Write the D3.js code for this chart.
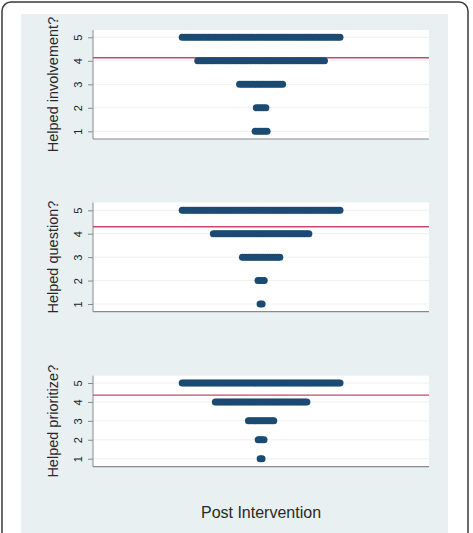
<!DOCTYPE html>
<html>
<head>
<meta charset="utf-8">
<script src="https://cdn.jsdelivr.net/npm/d3@7"></script>
<style>
  body { margin: 0; background: #fff; }
  text { font-family: "Liberation Sans", Arial, sans-serif; }
</style>
</head>
<body>
<svg width="473" height="533"></svg>
<script>
var svg = d3.select('svg');

// Likert responses (y values) and counts of respondents at each level
var levels = [1, 2, 3, 4, 5];
var titles = ['Helped involvement?', 'Helped question?', 'Helped prioritize?'];
var countsInvolvement = [6, 5, 19, 54, 67];
var countsQuestion = [2, 4, 19, 47, 77];
var countsPrioritize = [2, 4, 14, 48, 82];
var allCounts = [countsInvolvement, countsQuestion, countsPrioritize];
var xTitle = 'Post Intervention';

// layout: each panel gets its plot rect
var panels = [
    {top: 30, bottom: 139, y5: 37.3, y1: 131.3},
    {top: 202.5, bottom: 311.7, y5: 210.3, y1: 304},
    {top: 375.7, bottom: 466.7, y5: 383, y1: 458.7}
];
var plotL = 93, plotR = 429;
var dotR = 3.5;
var dotColor = '#1b4a72';
var meanColor = '#c8486e';

// outer frame + panel background
svg.append('rect')
    .attr('x', 2).attr('y', 2)
    .attr('width', 466).attr('height', 545)
    .attr('rx', 9)
    .attr('fill', '#fff')
    .attr('stroke', '#3a3a3a')
    .attr('stroke-width', 1.5);

svg.append('rect')
    .attr('x', 21).attr('y', 14)
    .attr('width', 427).attr('height', 530)
    .attr('fill', '#e8f0f2');

panels.forEach(function(p, k) {
    var counts = allCounts[k];
    var g = svg.append('g');

    var yScale = d3.scaleLinear().domain([5, 1]).range([p.y5, p.y1]);
    var nMax = d3.max(counts);
    var half = (nMax - 1) / 2;
    var xScale = d3.scaleLinear().domain([-half, half]).range([178.7 + dotR, 343.5 - dotR]);

    g.append('rect')
        .attr('x', plotL).attr('y', p.top)
        .attr('width', plotR - plotL).attr('height', p.bottom - p.top)
        .attr('fill', '#fff');

    // gridlines
    g.selectAll('.grid')
        .data(levels)
        .enter()
        .append('line')
        .attr('x1', plotL).attr('x2', plotR)
        .attr('y1', function(d) { return yScale(d); })
        .attr('y2', function(d) { return yScale(d); })
        .attr('stroke', '#eef0f1')
        .attr('stroke-width', 1);

    // left axis
    var yAxis = d3.axisLeft(yScale).tickValues(levels).tickFormat(d3.format('d')).tickSize(5);
    var ax = g.append('g')
        .attr('transform', 'translate(' + plotL + ',0)')
        .call(yAxis);
    ax.select('.domain').attr('stroke', '#8a8a8a').attr('d', 'M0,' + p.top + 'V' + p.bottom);
    ax.selectAll('.tick line').attr('stroke', '#8a8a8a');
    ax.selectAll('.tick text')
        .attr('fill', '#222')
        .style('font-size', '11px')
        .attr('x', null)
        .attr('text-anchor', 'middle')
        .attr('transform', 'translate(-15,0) rotate(-90)')
        .attr('y', 0)
        .attr('dy', '0.35em');

    // bottom axis line
    g.append('line')
        .attr('x1', plotL).attr('x2', plotR)
        .attr('y1', p.bottom).attr('y2', p.bottom)
        .attr('stroke', '#8a8a8a').attr('stroke-width', 1.2);

    // mean line
    var total = d3.sum(counts);
    var mean = d3.sum(levels, function(v, i) { return v * counts[i]; }) / total;
    g.append('line')
        .attr('x1', plotL).attr('x2', plotR)
        .attr('y1', yScale(mean)).attr('y2', yScale(mean))
        .attr('stroke', meanColor).attr('stroke-width', 1.4);

    // dots: one per respondent, stacked sideways around the centre
    var dots = [];
    levels.forEach(function(v, i) {
        var n = counts[i];
        for (var j = 0; j < n; j++) {
            dots.push({value: v, offset: j - (n - 1) / 2});
        }
    });
    g.selectAll('.dot')
        .data(dots)
        .enter()
        .append('circle')
        .attr('class', 'dot')
        .attr('cx', function(d) { return xScale(d.offset); })
        .attr('cy', function(d) { return yScale(d.value); })
        .attr('r', dotR)
        .attr('fill', dotColor);

    // y title
    g.append('text')
        .text(titles[k])
        .attr('text-anchor', 'middle')
        .attr('transform', 'translate(' + [58, (p.top + p.bottom) / 2] + ') rotate(-90)')
        .style('font-size', '14.5px')
        .attr('fill', '#2a2a2a');
});

svg.append('text')
    .text(xTitle)
    .attr('x', 261).attr('y', 518)
    .attr('text-anchor', 'middle')
    .style('font-size', '16px')
    .attr('fill', '#2a2a2a');
</script>
</body>
</html>
